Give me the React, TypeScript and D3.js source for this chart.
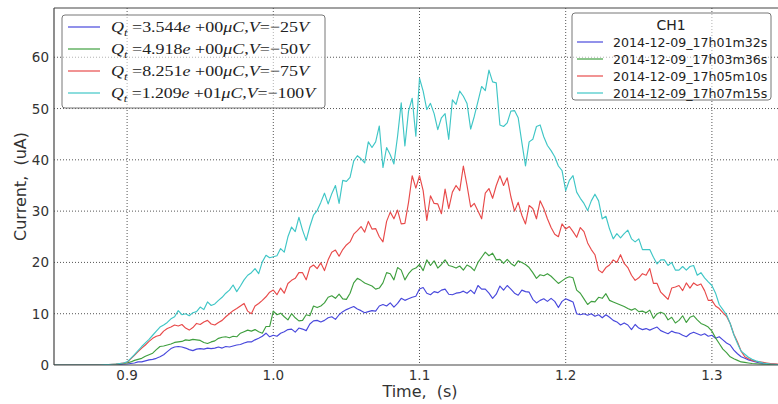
import React from "react";
import * as d3 from "d3";

// Sampling grid shared by all four traces (seconds)
const TIME_START = 0.85;
const TIME_STEP = 0.0025;

// Channel CH1 current traces (uA), one value per sample
const CURRENT_25V = [
  0, 0, 0, 0, 0, 0, 0, 0, 0, 0, 0, 0, 0, 0, 0, 0.05, 0.05, 0.1, 0.1, 0.15,
  0.2, 0.3, 0.4, 0.6, 0.6, 0.8, 1.0, 1.1, 1.3, 1.6, 2.0, 2.6, 3.2, 3.5, 3.6, 3.5, 3.3, 3.0, 2.8, 3.1,
  3.2, 3.1, 3.3, 3.2, 3.3, 3.5, 3.3, 3.6, 3.5, 3.7, 3.9, 4.0, 4.3, 4.5, 4.5, 4.9, 5.2, 5.6, 6.2, 5.5,
  5.8, 5.6, 6.2, 6.5, 6.9, 7.0, 6.4, 7.2, 7.0, 6.7, 8.0, 8.6, 8.7, 8.4, 8.7, 9.2, 9.4, 8.9, 9.8, 10.4,
  10.8, 11.1, 11.4, 10.9, 10.6, 10.2, 10.4, 10.6, 10.5, 11.5, 11.8, 11.5, 12.1, 11.3, 12.0, 13.0, 12.6, 12.9, 13.2, 13.4,
  14.8, 15.1, 14.0, 13.7, 14.3, 14.1, 14.6, 14.8, 13.8, 13.7, 14.0, 14.1, 14.4, 14.0, 14.6, 13.9, 15.5, 14.8, 14.8, 14.0,
  13.0, 13.8, 15.4, 14.6, 15.5, 14.8, 14.0, 13.6, 14.6, 14.3, 14.2, 12.8, 12.1, 12.6, 12.9, 12.4, 13.0, 12.4, 11.2, 12.4,
  12.9, 12.6, 12.3, 10.0, 9.8, 10.0, 9.7, 10.0, 9.5, 9.8, 9.2, 9.8, 9.3, 8.7, 8.4, 7.8, 8.2, 7.8, 6.9, 7.9,
  7.2, 6.9, 7.1, 6.8, 7.1, 7.4, 6.7, 6.4, 6.1, 6.6, 6.3, 6.2, 5.8, 5.5, 6.1, 6.4, 6.1, 5.8, 6.1, 5.6,
  5.8, 5.2, 5.5, 4.9, 4.3, 3.9, 2.9, 2.2, 1.6, 1.3, 1.0, 0.8, 0.6, 0.4, 0.3, 0.25, 0.2, 0.15, 0.1, 0.1, 0.1,
];

const CURRENT_50V = [
  0, 0, 0, 0, 0, 0, 0, 0, 0, 0, 0, 0, 0, 0, 0.05, 0.1, 0.1, 0.15, 0.2, 0.3,
  0.4, 0.6, 0.9, 1.1, 1.3, 1.7, 2.0, 2.3, 3.0, 3.6, 3.7, 3.9, 4.1, 4.4, 4.5, 4.6, 4.9, 4.8, 5.0, 4.9,
  4.8, 4.4, 4.2, 4.5, 4.7, 5.2, 5.4, 5.5, 5.3, 5.6, 5.5, 6.2, 6.5, 6.8, 6.6, 6.9, 6.5, 6.2, 7.5, 7.5,
  10.5, 9.8, 10.1, 9.4, 8.8, 10.0, 9.2, 8.6, 8.7, 9.8, 9.6, 11.5, 11.2, 11.5, 12.1, 13.2, 13.5, 13.0, 13.8, 12.9,
  12.8, 14.0, 16.0, 16.9, 16.5, 16.0, 15.7, 15.4, 14.8, 15.0, 16.0, 18.0, 17.8, 16.6, 19.0, 18.5, 16.6, 17.8, 18.6, 18.9,
  19.6, 18.4, 20.5, 19.4, 20.3, 18.9, 19.6, 20.5, 19.4, 19.2, 18.9, 19.3, 18.5, 19.5, 19.1, 18.4, 20.0, 21.0, 22.0, 21.3,
  21.8, 20.5, 20.6, 19.8, 20.6, 19.8, 19.3, 20.3, 20.0, 19.6, 19.0, 18.0, 16.9, 17.6, 17.4, 17.8, 17.3, 16.6, 15.9, 16.4,
  16.9, 17.2, 17.0, 14.6, 14.0, 12.9, 11.8, 12.4, 12.3, 13.2, 13.0, 13.9, 12.6, 12.3, 12.0, 11.7, 11.4, 11.0, 10.7, 11.0,
  10.4, 10.5, 10.2, 10.7, 9.1, 10.0, 10.3, 10.0, 8.8, 9.3, 8.2, 8.7, 9.6, 8.3, 9.3, 9.6, 8.8, 8.1, 7.8, 7.4,
  6.6, 5.3, 4.2, 3.1, 2.4, 1.6, 1.2, 0.9, 0.6, 0.5, 0.4, 0.3, 0.25, 0.2, 0.15, 0.15, 0.1, 0.1, 0.1, 0.1, 0.1,
];

const CURRENT_75V = [
  0, 0, 0, 0, 0, 0, 0, 0, 0, 0, 0, 0, 0, 0.05, 0.1, 0.1, 0.15, 0.2, 0.3, 0.4,
  0.5, 1.2, 1.9, 2.6, 3.3, 3.9, 4.6, 5.2, 5.6, 5.8, 6.6, 7.1, 7.4, 7.8, 7.6, 7.9, 7.2, 6.8, 7.3, 8.1,
  7.9, 8.4, 8.7, 8.0, 7.8, 8.3, 8.7, 9.4, 10.0, 10.6, 11.0, 11.5, 12.0, 10.5, 10.0, 11.5, 12.0, 12.6, 13.3, 14.2,
  14.6, 13.7, 15.0, 14.0, 15.9, 16.5, 16.9, 18.0, 18.0, 16.6, 19.0, 19.5, 18.8, 19.9, 18.4, 20.5, 22.0, 22.4, 21.2, 22.5,
  23.4, 24.0, 25.5, 26.2, 27.0, 25.9, 28.0, 26.5, 26.6, 25.0, 24.0, 28.0, 29.8, 28.5, 30.2, 27.5, 27.6, 31.7, 36.9, 34.5,
  36.9, 34.0, 28.2, 33.0, 31.5, 31.4, 29.5, 34.3, 30.5, 33.7, 35.0, 34.0, 38.8, 35.0, 30.8, 31.5, 30.0, 28.5, 33.5, 34.4,
  32.5, 35.0, 36.9, 35.0, 36.5, 32.8, 30.0, 31.7, 29.2, 27.5, 31.1, 30.5, 28.5, 32.0, 30.5, 28.5, 26.8, 25.5, 25.0, 27.5,
  26.5, 27.0, 26.0, 24.9, 26.8, 26.0, 23.8, 22.5, 21.5, 18.5, 18.0, 19.0, 19.5, 20.5, 20.0, 21.5, 19.8, 19.0, 17.5, 16.5,
  17.0, 17.8, 17.5, 18.8, 15.9, 15.9, 14.2, 13.5, 12.8, 15.0, 15.2, 15.5, 14.5, 16.0, 15.0, 16.0, 15.5, 15.8, 14.5, 12.6,
  12.6, 11.5, 11.0, 10.2, 9.5, 8.1, 6.0, 4.5, 2.7, 1.6, 1.2, 0.9, 0.7, 0.6, 0.5, 0.4, 0.3, 0.25, 0.2, 0.2, 0.2,
];

const CURRENT_100V = [
  0, 0, 0, 0, 0, 0, 0, 0, 0, 0, 0, 0, 0, 0.05, 0.1, 0.1, 0.15, 0.2, 0.3, 0.4,
  0.6, 1.3, 2.0, 2.8, 3.6, 4.3, 5.0, 5.8, 6.6, 7.4, 7.8, 8.3, 9.0, 9.4, 10.6, 9.8, 10.0, 9.6, 10.2, 10.4,
  11.3, 10.8, 12.3, 11.6, 11.9, 12.6, 13.2, 14.0, 14.6, 15.6, 14.3, 15.4, 16.6, 17.5, 18.0, 18.8, 17.8, 20.1, 21.4, 20.9,
  21.1, 21.3, 22.7, 22.0, 25.0, 26.9, 26.0, 28.8, 26.3, 24.3, 27.0, 29.2, 30.1, 31.7, 33.5, 31.4, 33.4, 35.0, 31.5, 36.0,
  35.8, 36.6, 39.8, 40.8, 40.2, 39.4, 43.5, 42.4, 43.5, 46.6, 38.5, 42.4, 41.0, 39.2, 44.6, 51.1, 42.7, 49.5, 52.0, 44.6,
  55.9, 53.4, 49.8, 51.0, 49.0, 45.9, 48.2, 49.0, 44.0, 51.7, 50.8, 53.4, 52.4, 51.0, 46.0, 48.5, 51.4, 54.3, 53.5, 57.5,
  55.2, 55.0, 46.8, 46.5, 47.2, 49.5, 49.6, 48.2, 43.4, 38.8, 43.5, 44.0, 46.5, 46.8, 44.5, 42.8, 41.8, 40.6, 38.8, 37.9,
  34.0, 36.0, 36.9, 33.7, 32.5, 31.5, 30.1, 32.0, 33.3, 32.0, 28.5, 29.0, 26.5, 24.6, 25.6, 24.8, 25.6, 26.3, 24.6, 24.0,
  24.6, 22.5, 22.5, 22.5, 21.0, 19.7, 20.5, 20.5, 19.4, 20.0, 18.5, 18.5, 19.2, 18.5, 19.2, 19.4, 17.5, 18.0, 17.0, 16.2,
  15.5, 14.0, 11.8, 10.8, 9.8, 8.1, 5.9, 4.2, 2.7, 2.1, 1.5, 1.1, 0.8, 0.6, 0.4, 0.3, 0.2, 0.15, 0.1, 0.1, 0.1,
];

// Run metadata shown in the two legends
const CHARGES = ["3.544e+00", "4.918e+00", "8.251e+00", "1.209e+01"];
const VOLTAGES = [-25, -50, -75, -100];
const RUN_NAMES = [
  "2014-12-09_17h01m32s",
  "2014-12-09_17h03m36s",
  "2014-12-09_17h05m10s",
  "2014-12-09_17h07m15s",
];
const CHANNEL = "CH1";

const X_TICKS = [0.9, 1.0, 1.1, 1.2, 1.3];
const Y_TICKS = [0, 10, 20, 30, 40, 50, 60];

const SERIES = [CURRENT_25V, CURRENT_50V, CURRENT_75V, CURRENT_100V];
const COLORS = ["#4848dc", "#3f9f3f", "#e84a4a", "#3fc6c6"];

const SANS = "'DejaVu Sans', Verdana, sans-serif";
const SERIF = "'Liberation Serif', 'DejaVu Serif', serif";

function ChargeLabel({ charge, volt, x, y }: { charge: string; volt: number; x: number; y: number }) {
  const [mant, exp] = charge.split("e");
  const vText = volt < 0 ? "\u2212" + Math.abs(volt) : String(volt);
  const width = volt <= -100 ? 204 : 198;
  return (
    <text
      x={x}
      y={y}
      fontFamily={SERIF}
      fontSize={15}
      fill="#222"
      textLength={width}
      lengthAdjust="spacingAndGlyphs"
    >
      <tspan fontStyle="italic">Q</tspan>
      <tspan fontStyle="italic" fontSize={10.5} dy={3.5}>t</tspan>
      <tspan dy={-3.5}>{" =" + mant}</tspan>
      <tspan fontStyle="italic">e</tspan>
      <tspan>{" " + exp}</tspan>
      <tspan fontStyle="italic">{"\u03bcC"}</tspan>
      <tspan>,</tspan>
      <tspan fontStyle="italic">V</tspan>
      <tspan>{"=" + vText}</tspan>
      <tspan fontStyle="italic">V</tspan>
    </text>
  );
}

export default function App() {
  const W = 778;
  const H = 404;
  const left = 54;
  const top = 8;
  const bottom = 365;
  const right = 785;

  const x = d3.scaleLinear().domain([0.85, 1.35]).range([left, right]);
  const y = d3.scaleLinear().domain([0, 69.6]).range([bottom, top]);

  const line = d3
    .line<number>()
    .x((_, i) => x(TIME_START + i * TIME_STEP))
    .y((v) => y(v));

  const fmt = d3.format(".1f");

  return (
    <svg
      width={W}
      height={H}
      style={{ position: "absolute", left: 0, top: 0, background: "#fff" }}
    >
      <defs>
        <clipPath id="plot-area">
          <rect x={left} y={top} width={right - left} height={bottom - top} />
        </clipPath>
      </defs>
      <rect width={W} height={H} fill="#fff" />

      {/* grid */}
      <g stroke="#555" strokeWidth={1} strokeDasharray="1,2">
        {X_TICKS.map((t) => (
          <line key={"gx" + t} x1={x(t)} x2={x(t)} y1={top} y2={bottom} />
        ))}
        {Y_TICKS.filter((t) => t > 0).map((t) => (
          <line key={"gy" + t} x1={left} x2={right} y1={y(t)} y2={y(t)} />
        ))}
      </g>

      {/* traces */}
      <g clipPath="url(#plot-area)" fill="none" strokeWidth={1.15} strokeLinejoin="round">
        {SERIES.map((s, k) => (
          <path key={"s" + k} d={line(s) || ""} stroke={COLORS[k]} />
        ))}
      </g>

      {/* spines */}
      <g stroke="#444" strokeWidth={1.2}>
        <line x1={left} x2={left} y1={top} y2={bottom} />
        <line x1={left} x2={right} y1={bottom} y2={bottom} />
        <line x1={left} x2={right} y1={top} y2={top} />
      </g>

      {/* tick labels */}
      <g fontFamily={SANS} fontSize={13.5} fill="#333">
        {Y_TICKS.map((t) => (
          <text key={"ty" + t} x={49} y={y(t) + 5} textAnchor="end">
            {t}
          </text>
        ))}
        {X_TICKS.map((t) => (
          <text key={"tx" + t} x={x(t)} y={380} textAnchor="middle">
            {fmt(t)}
          </text>
        ))}
      </g>

      {/* axis titles */}
      <text
        x={420}
        y={397}
        textAnchor="middle"
        fontFamily={SANS}
        fontSize={16}
        fill="#333"
        style={{ whiteSpace: "pre" }}
      >
        {"Time,  (s)"}
      </text>
      <text
        transform={`translate(26,${(top + bottom) / 2}) rotate(-90)`}
        textAnchor="middle"
        fontFamily={SANS}
        fontSize={16}
        fill="#333"
        style={{ whiteSpace: "pre" }}
      >
        {"Current,  (uA)"}
      </text>

      {/* charge / voltage legend */}
      <g>
        <rect x={62} y={15} width={263} height={93} rx={3} fill="#fff" fillOpacity={0.55} stroke="#777" strokeWidth={1} />
        {CHARGES.map((c, k) => {
          const cy = 27 + k * 22;
          return (
            <g key={"lq" + k}>
              <line x1={68} x2={100} y1={cy} y2={cy} stroke={COLORS[k]} strokeWidth={1.2} />
              <ChargeLabel charge={c} volt={VOLTAGES[k]} x={111} y={cy + 5} />
            </g>
          );
        })}
      </g>

      {/* run legend */}
      <g>
        <rect x={572} y={13} width={199} height={87} rx={3} fill="#fff" fillOpacity={0.55} stroke="#777" strokeWidth={1} />
        <text x={671} y={30} textAnchor="middle" fontFamily={SANS} fontSize={14} fill="#222">
          {CHANNEL}
        </text>
        {RUN_NAMES.map((r, k) => {
          const cy = 42 + k * 17;
          return (
            <g key={"lr" + k}>
              <line x1={577} x2={603} y1={cy} y2={cy} stroke={COLORS[k]} strokeWidth={1.2} />
              <text x={613} y={cy + 4.5} fontFamily={SANS} fontSize={12.6} fill="#222">
                {r}
              </text>
            </g>
          );
        })}
      </g>
    </svg>
  );
}
